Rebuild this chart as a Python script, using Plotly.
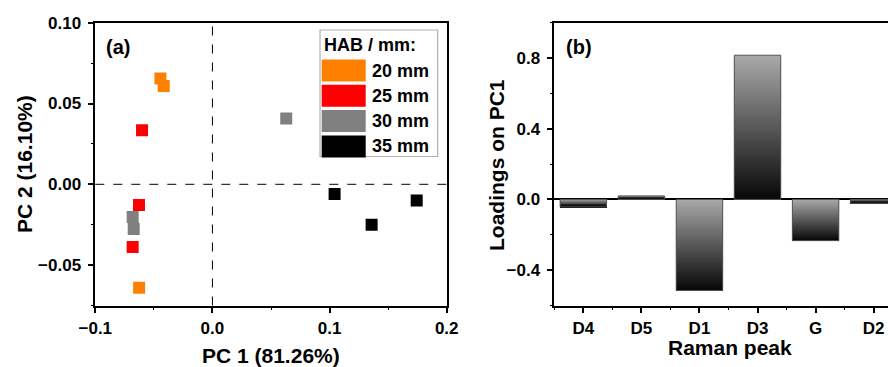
import plotly.graph_objects as go

# ---------------- data ----------------
hab_labels = ["20 mm", "25 mm", "30 mm", "35 mm"]
hab_colors = ["#ff8000", "#ff0000", "#808080", "#000000"]
pc1_20 = [-0.0444, -0.0416, -0.0626]
pc2_20 = [0.0655, 0.0609, -0.0640]
pc1_25 = [-0.0601, -0.0627, -0.0681]
pc2_25 = [0.0335, -0.0128, -0.0388]
pc1_30 = [0.0630, -0.0681, -0.0672]
pc2_30 = [0.0407, -0.0203, -0.0277]
pc1_35 = [0.1043, 0.1359, 0.1744]
pc2_35 = [-0.0060, -0.0250, -0.0101]

peaks = ["D4", "D5", "D1", "D3", "G", "D2"]
loadings = [-0.042, 0.020, -0.515, 0.816, -0.233, -0.022]

FONT = "Liberation Sans, Arial, sans-serif"
BOLD = dict(family=FONT, weight="bold", color="black")

# the page body has an 8px margin: lay the figure out in window pixels
OFF = 8
W, H = 896 - OFF, 367 - OFF


def px(x):
    return (x - OFF) / W


def py(y):
    return 1 - (y - OFF) / H


fig = go.Figure()

# ---------------- panel (a) scatter ----------------
groups = [(pc1_20, pc2_20), (pc1_25, pc2_25), (pc1_30, pc2_30), (pc1_35, pc2_35)]
for (xs, ys), name, col in zip(groups, hab_labels, hab_colors):
    fig.add_trace(go.Scatter(
        x=xs, y=ys, mode="markers", name=name, xaxis="x", yaxis="y",
        marker=dict(symbol="square", size=12, color=col, line=dict(width=0)),
        showlegend=False))

# ---------------- panel (b) gradient bars ----------------
N = 60
light, dark = 168, 8
xpos = list(range(len(peaks)))
for k in range(N):
    t = k / (N - 1)
    g = int(round(light + (dark - light) * t))
    col = f"rgb({g},{g},{g})"
    frac = k / N
    bases, hs = [], []
    for v in loadings:
        if v >= 0:
            bases.append(0.0)
            hs.append(v * (1 - frac))
        else:
            bases.append(v * frac)
            hs.append(v * (1 - frac))
    fig.add_trace(go.Bar(
        x=xpos, y=hs, base=bases, width=0.8,
        marker=dict(color=col, line=dict(width=0)),
        xaxis="x2", yaxis="y2", showlegend=False, hoverinfo="skip"))
fig.add_trace(go.Bar(
    x=xpos, y=loadings, width=0.8,
    marker=dict(color="rgba(0,0,0,0)", line=dict(width=1, color="#555555")),
    xaxis="x2", yaxis="y2", showlegend=False))

axis_common = dict(
    showline=True, linecolor="black", linewidth=1.6, ticks="outside",
    ticklen=6, tickwidth=1.5, tickcolor="black", showgrid=False,
    automargin=False, tickfont=dict(size=17, **BOLD))
minor_common = dict(ticks="outside", ticklen=3, tickwidth=1.2,
                    tickcolor="black")

y_dom = [py(305.5), py(22.7)]

fig.update_layout(
    width=W, height=H, margin=dict(l=0, r=0, t=0, b=0, pad=0),
    paper_bgcolor="white", plot_bgcolor="white",
    barmode="overlay", showlegend=False,
    xaxis=dict(domain=[px(95.3), px(446.7)], range=[-0.1, 0.2],
               dtick=0.1, tick0=0, tickformat=".1f", mirror=True,
               zeroline=False,
               minor=dict(dtick=0.05, tick0=0, **minor_common),
               anchor="y", **axis_common),
    yaxis=dict(domain=y_dom, range=[-0.075, 0.10], dtick=0.05, tick0=0,
               tickformat=".2f", mirror=True, zeroline=False,
               ticklabelstandoff=3,
               minor=dict(dtick=0.025, tick0=0, **minor_common),
               anchor="x", **axis_common),
    xaxis2=dict(domain=[px(554.3), 1.0], range=[-0.5, 5.385],
                tickmode="array", tickvals=xpos,
                ticktext=peaks, mirror=True, zeroline=False,
                minor=dict(tickmode="array",
                           tickvals=[i + 0.5 for i in range(-1, len(peaks))],
                           **minor_common),
                anchor="y2", **axis_common),
    yaxis2=dict(domain=y_dom, range=[-0.6, 1.0], dtick=0.4, tick0=0,
                tickformat=".1f", mirror=False, zeroline=True,
                zerolinecolor="black", zerolinewidth=1.5,
                ticklabelstandoff=3,
                minor=dict(dtick=0.2, tick0=0, **minor_common),
                anchor="x2", **axis_common),
)

# dashed reference lines in (a)
fig.add_shape(type="line", xref="x", yref="y domain", x0=0, x1=0, y0=0, y1=1,
              line=dict(color="black", width=1, dash="dash"))
fig.add_shape(type="line", xref="x domain", yref="y", x0=0, x1=1, y0=0, y1=0,
              line=dict(color="black", width=1, dash="dash"))

ann = [
    dict(text="PC 1 (81.26%)", x=px(271), y=py(355), size=21, angle=0),
    dict(text="PC 2 (16.10%)", x=px(24), y=py(164), size=21, angle=-90),
    dict(text="Raman peak", x=px(730), y=py(347), size=21, angle=0),
    dict(text="Loadings on PC1", x=px(496), y=py(165), size=21, angle=-90),
    dict(text="(a)", x=px(118), y=py(47), size=20, angle=0),
    dict(text="(b)", x=px(579), y=py(47), size=20, angle=0),
]
for a in ann:
    fig.add_annotation(text=a["text"], xref="paper", yref="paper",
                       x=a["x"], y=a["y"], xanchor="center", yanchor="middle",
                       showarrow=False, textangle=a["angle"],
                       font=dict(size=a["size"], **BOLD))

# legend box (a)
fig.add_shape(type="rect", xref="paper", yref="paper",
              x0=px(320), x1=px(437.7), y0=py(156.5), y1=py(30),
              line=dict(color="#b0b0b0", width=1.2), fillcolor="white")
fig.add_annotation(text="HAB / mm:", xref="paper", yref="paper",
                   x=px(321.5), y=py(45.5), xanchor="left", yanchor="middle",
                   showarrow=False, font=dict(size=18, **BOLD))
for i, (name, col) in enumerate(zip(hab_labels, hab_colors)):
    top = 59.5 + i * 25.3
    fig.add_shape(type="rect", xref="paper", yref="paper",
                  x0=px(321.7), x1=px(365.7), y0=py(top + 22), y1=py(top),
                  line=dict(width=0), fillcolor=col)
    fig.add_annotation(text=name, xref="paper", yref="paper",
                       x=px(370), y=py(top + 11), xanchor="left",
                       yanchor="middle", showarrow=False,
                       font=dict(size=18, **BOLD))

fig.write_html("out.html")
